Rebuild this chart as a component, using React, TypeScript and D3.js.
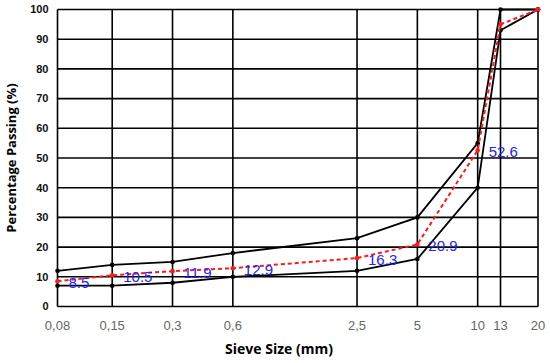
import * as d3 from "d3";

// sieve sizes (mm) and their printed tick labels
const sieveSizes = [0.08, 0.15, 0.3, 0.6, 2.5, 5, 10, 13, 20];
const sieveLabels = ["0,08", "0,15", "0,3", "0,6", "2,5", "5", "10", "13", "20"];

// grading envelope (% passing)
const upperLimit = [12, 14, 15, 18, 23, 30, 55, 100, 100];
const lowerLimit = [7, 7, 8, 10, 12, 16, 40, 93, 100];

// measured gradation (% passing)
const passing = [8.5, 10.5, 11.9, 12.9, 16.3, 20.9, 52.6, 95, 100];
const labelledCount = 7;

const yTicks = [0, 10, 20, 30, 40, 50, 60, 70, 80, 90, 100];

export default function App() {
    const width = 550;
    const height = 363;

    const margin = {
        top: 9.5,
        right: 12,
        bottom: 56.5,
        left: 57.5,
    };

    const x = d3
        .scaleLog()
        .domain([0.08, 20])
        .range([margin.left, width - margin.right]);

    const y = d3
        .scaleLinear()
        .domain([0, 100])
        .range([height - margin.bottom, margin.top]);

    const toPoints = (values: number[]) =>
        values.map((v, i) => [sieveSizes[i], v] as [number, number]);

    const line = d3
        .line<[number, number]>()
        .x((d) => x(d[0]))
        .y((d) => y(d[1]));

    const font = "'Liberation Sans', Arial, sans-serif";
    const titleFont = "'Open Sans', 'Noto Sans', sans-serif";

    return (
        <svg
            width={width}
            height={height}
            style={{ position: "absolute", left: 0, top: 0, background: "#fff" }}
        >
            {/* grid */}
            <g stroke="#000" strokeWidth={1.6}>
                {yTicks.map((t) => (
                    <line
                        key={"h" + t}
                        x1={x(0.08)}
                        x2={x(20)}
                        y1={y(t)}
                        y2={y(t)}
                    />
                ))}
                {sieveSizes.map((s) => (
                    <line
                        key={"v" + s}
                        x1={x(s)}
                        x2={x(s)}
                        y1={y(0)}
                        y2={y(100)}
                    />
                ))}
            </g>

            {/* y tick labels */}
            <g
                fontFamily={font}
                fontWeight="bold"
                fontSize={11}
                textAnchor="end"
                fill="#111"
            >
                {yTicks.map((t) => (
                    <text key={t} x={margin.left - 9} y={y(t)} dy="0.35em">
                        {t}
                    </text>
                ))}
            </g>

            {/* x tick labels */}
            <g fontFamily={font} fontSize={13} textAnchor="middle" fill="#666">
                {sieveSizes.map((s, i) => (
                    <text key={s} x={x(s)} y={y(0) + 19} dy="0.35em">
                        {sieveLabels[i]}
                    </text>
                ))}
            </g>

            {/* envelope */}
            {[upperLimit, lowerLimit].map((vals, k) => (
                <g key={k}>
                    <path
                        d={line(toPoints(vals)) || ""}
                        fill="none"
                        stroke="#000"
                        strokeWidth={1.8}
                    />
                    {toPoints(vals).map((d, i) => (
                        <circle key={i} cx={x(d[0])} cy={y(d[1])} r={2.3} fill="#000" />
                    ))}
                </g>
            ))}

            {/* measured curve */}
            <path
                d={line(toPoints(passing)) || ""}
                fill="none"
                stroke="#ff1a1a"
                strokeWidth={2}
                strokeDasharray="4,3"
            />
            {toPoints(passing).map((d, i) => (
                <circle key={i} cx={x(d[0])} cy={y(d[1])} r={2.3} fill="#ff1a1a" />
            ))}

            {/* value labels */}
            <g fontFamily={font} fontSize={15} fill="#2222ff">
                {passing.slice(0, labelledCount).map((v, i) => (
                    <text
                        key={i}
                        x={x(sieveSizes[i]) + 11}
                        y={y(v) + 1.5}
                        dy="0.35em"
                    >
                        {v.toFixed(1)}
                    </text>
                ))}
            </g>

            {/* axis titles */}
            <text
                x={279}
                y={height - 9}
                textAnchor="middle"
                fontFamily={titleFont}
                fontWeight="bold"
                fontSize={14}
                fill="#000"
            >
                Sieve Size (mm)
            </text>
            <text
                transform={`translate(16, ${(y(0) + y(100)) / 2}) rotate(-90)`}
                textAnchor="middle"
                fontFamily={titleFont}
                fontWeight="bold"
                fontSize={13}
                fill="#000"
            >
                Percentage Passing (%)
            </text>
        </svg>
    );
}
